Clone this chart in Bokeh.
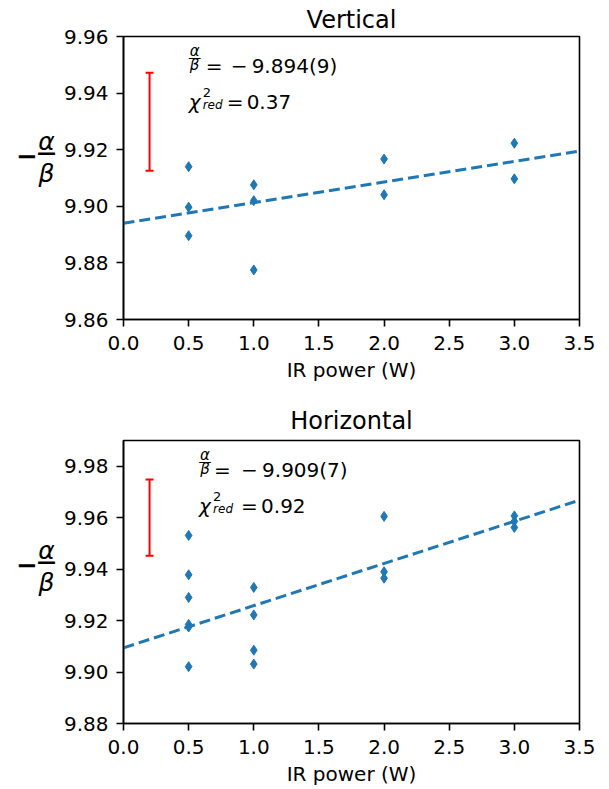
import numpy as np
from bokeh.plotting import figure
from bokeh.models import (ColumnDataSource, Whisker, TeeHead, Label,
                          FixedTicker, PrintfTickFormatter, Range1d)
from bokeh.layouts import column, row
from bokeh.embed import file_html
from bokeh.resources import INLINE

# ---------------- data ----------------
x_ticks = [0.0, 0.5, 1.0, 1.5, 2.0, 2.5, 3.0, 3.5]
x_limits = [0.0, 3.5]

# Vertical
v_power = [0.5, 0.5, 0.5, 1.0, 1.0, 1.0, 2.0, 2.0, 3.0, 3.0]
v_ratio = [9.9140, 9.8997, 9.8896, 9.9076, 9.9020, 9.8775, 9.9167, 9.9041, 9.9223, 9.9097]
v_fit_intercept = 9.894
v_fit_slope = 0.00729
v_err_x = 0.2
v_err_center = 9.9299
v_err_half = 0.0173
v_fit_text = "9.894(9)"
v_chi2_text = "0.37"
v_yticks = [9.86, 9.88, 9.90, 9.92, 9.94, 9.96]
v_ylimits = [9.86, 9.96]

# Horizontal
h_power = [0.5, 0.5, 0.5, 0.5, 0.5, 0.5, 1.0, 1.0, 1.0, 1.0, 2.0, 2.0, 2.0, 3.0, 3.0, 3.0]
h_ratio = [9.9531, 9.9378, 9.9290, 9.9185, 9.9175, 9.9021,
           9.9329, 9.9222, 9.9085, 9.9031,
           9.9605, 9.9390, 9.9365,
           9.9607, 9.9586, 9.9562]
h_fit_intercept = 9.9094
h_fit_slope = 0.0164
h_err_x = 0.2
h_err_center = 9.9600
h_err_half = 0.0148
h_fit_text = "9.909(7)"
h_chi2_text = "0.92"
h_yticks = [9.88, 9.90, 9.92, 9.94, 9.96, 9.98]
h_ylimits = [9.88, 9.99]

FONT = "DejaVu Sans"
BLUE = "#1f77b4"
LAB_W = 60
MAIN_W = 548


def lab(p, x, y, text, size, xo=0, yo=0, align="left", italic=False, bold=False):
    style = "italic" if italic else ("bold" if bold else "normal")
    p.add_layout(Label(x=x, y=y, x_offset=xo, y_offset=yo, text=text,
                       text_font=FONT, text_font_size=f"{size}px",
                       text_font_style=style, text_color="black",
                       text_align=align, text_baseline="alphabetic"))


def panel(title, xs, ys, b0, b1, ex, ec, eh, fit_text, chi_text, yticks, ylim,
          height, btop, bbot, standoff, tx, ty1, ty2, label_y, offs):
    yr = Range1d(*ylim)
    p = figure(width=MAIN_W, height=height,
               x_range=Range1d(*x_limits), y_range=yr,
               output_backend="svg", toolbar_location=None,
               min_border_left=123 - LAB_W, min_border_right=29,
               min_border_top=btop, min_border_bottom=bbot)
    p.background_fill_color = "white"
    p.border_fill_color = "white"
    p.outline_line_color = "black"
    p.outline_line_width = 1.6
    p.outline_line_alpha = 1.0
    p.grid.visible = False

    p.title.text = title
    p.title.align = "center"
    p.title.text_font = FONT
    p.title.text_font_size = "24px"
    p.title.text_font_style = "normal"
    p.title.text_color = "black"
    p.title.standoff = standoff

    p.xaxis.ticker = FixedTicker(ticks=x_ticks)
    p.xaxis.formatter = PrintfTickFormatter(format="%.1f")
    p.yaxis.ticker = FixedTicker(ticks=yticks)
    p.yaxis.formatter = PrintfTickFormatter(format="%.2f")
    for ax in (p.xaxis, p.yaxis):
        ax.major_label_text_font = FONT
        ax.major_label_text_font_size = "20px"
        ax.major_label_text_color = "black"
        ax.axis_line_width = 1.6
        ax.axis_line_color = "black"
        ax.major_tick_line_width = 1.6
        ax.major_tick_line_color = "black"
        ax.major_tick_out = 7
        ax.major_tick_in = 0
        ax.minor_tick_out = 0
        ax.minor_tick_in = 0
    p.xaxis.major_label_standoff = 9
    p.yaxis.major_label_standoff = 8
    p.xaxis.axis_label = "IR power (W)"
    p.xaxis.axis_label_text_font = FONT
    p.xaxis.axis_label_text_font_size = "20px"
    p.xaxis.axis_label_text_font_style = "normal"
    p.xaxis.axis_label_text_color = "black"
    p.xaxis.axis_label_standoff = 5

    # data points
    p.scatter(xs, ys, marker="diamond", size=10, color=BLUE)
    # fit line
    fx = np.array(x_limits)
    p.line(fx, b0 + b1 * fx, line_color=BLUE, line_width=3, line_dash="11 5")
    # typical error bar
    src = ColumnDataSource(dict(base=[ex], lower=[ec - eh], upper=[ec + eh]))
    p.add_layout(Whisker(source=src, base="base", lower="lower", upper="upper",
                         dimension="height", line_color="red", line_width=2,
                         upper_head=TeeHead(size=8, line_color="red", line_width=2),
                         lower_head=TeeHead(size=8, line_color="red", line_width=2)))

    # annotation row 1: alpha/beta = - value
    lab(p, tx, ty1, "α", 15, xo=6, yo=15, align="center", italic=True)
    lab(p, tx, ty1, "—", 13, xo=6, yo=8, align="center")
    lab(p, tx, ty1, "β", 15, xo=6, yo=1, align="center", italic=True)
    lab(p, tx, ty1, "=", 20, xo=offs[0])
    lab(p, tx, ty1, "−", 20, xo=offs[1])
    lab(p, tx, ty1, fit_text, 20, xo=offs[2])
    # annotation row 2: chi^2_red = value
    lab(p, tx, ty2, "χ", 20, xo=0, italic=True)
    lab(p, tx, ty2, "2", 13, xo=14, yo=10)
    lab(p, tx, ty2, "red", 12, xo=14, yo=-3, italic=True)
    lab(p, tx, ty2, "=", 20, xo=offs[3])
    lab(p, tx, ty2, chi_text, 20, xo=offs[4])

    # y axis label (-alpha/beta) in a narrow side figure sharing the y range
    q = figure(width=LAB_W, height=height, x_range=Range1d(0, 1), y_range=yr,
               output_backend="svg", toolbar_location=None,
               x_axis_location=None, y_axis_location=None,
               min_border_left=0, min_border_right=0,
               min_border_top=btop, min_border_bottom=bbot)
    q.outline_line_color = None
    q.grid.visible = False
    q.background_fill_color = "white"
    q.border_fill_color = "white"
    lab(q, 0, label_y, "−", 26, xo=26.5, yo=-8.5, align="center", bold=True)
    lab(q, 0, label_y, "α", 25, xo=46, yo=5, align="center", italic=True)
    lab(q, 0, label_y, "—", 19, xo=46, yo=-5.5, align="center", bold=True)
    lab(q, 0, label_y, "β", 25, xo=46, yo=-27, align="center", italic=True)
    return row(q, p)


top = panel("Vertical", v_power, v_ratio, v_fit_intercept, v_fit_slope,
            v_err_x, v_err_center, v_err_half, v_fit_text, v_chi2_text,
            v_yticks, v_ylimits, height=395, btop=36, bbot=76, standoff=6,
            tx=0.5, ty1=9.9497, ty2=9.9368, label_y=9.921,
            offs=[17, 42, 63, 38, 58])
bottom = panel("Horizontal", h_power, h_ratio, h_fit_intercept, h_fit_slope,
               h_err_x, h_err_center, h_err_half, h_fit_text, h_chi2_text,
               h_yticks, h_ylimits, height=393, btop=45, bbot=65, standoff=11,
               tx=0.58, ty1=9.9787, ty2=9.9645, label_y=9.9453,
               offs=[15, 42, 63, 42, 62])

layout = column(top, bottom)
open("out.html", "w").write(file_html(layout, INLINE))
